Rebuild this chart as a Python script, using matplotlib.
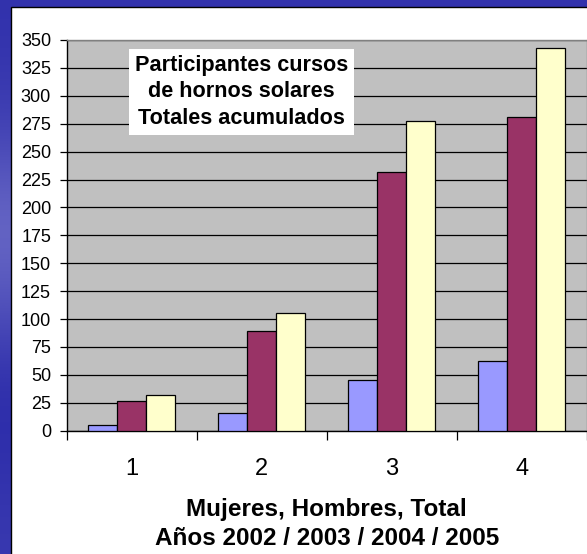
import numpy as np
import matplotlib
matplotlib.use("Agg")
import matplotlib.pyplot as plt
import matplotlib.transforms as mtransforms
from matplotlib.patches import Rectangle

plt.rcParams["font.family"] = ["Liberation Sans", "DejaVu Sans"]

# datos
cursos = [1, 2, 3, 4]
mujeres = [5, 16, 45, 62]
hombres = [27, 89, 232, 281]
total = [32, 105, 277, 343]
yticks = list(range(0, 351, 25))

fig = plt.figure(figsize=(5.87, 5.54), dpi=100)

# fondo azul degradado de la diapositiva
bg = fig.add_axes([0, 0, 1, 1], zorder=-10)
prof = np.array([0.10, 0.15, 0.25, 0.45, 0.60, 0.50, 0.30, 0.10, 0.05, 0.10, 0.15])
img = np.zeros((len(prof), 2, 3))
base = np.array([0x28, 0x28, 0xA8]) / 255
light = np.array([0x90, 0x90, 0xD8]) / 255
for i, p in enumerate(prof):
    img[i, :] = base * (1 - p) + light * p
bg.imshow(img, aspect="auto", extent=[0, 1, 0, 1], interpolation="bicubic")
bg.set_axis_off()

# panel blanco
fig.add_artist(Rectangle((10.7 / 587, -0.01), 1.0, 1 - 7.3 / 554 + 0.01,
                         transform=fig.transFigure, facecolor="white",
                         edgecolor="black", linewidth=1.0, zorder=-5))

ax = fig.add_axes([66.7 / 587, (554 - 430.7) / 554, 520 / 587, 390.7 / 554])
ax.set_facecolor("#C0C0C0")

x = np.arange(len(cursos))
w = 2 / 9
ax.bar(x - w, mujeres, w, color="#9999FF", edgecolor="black", linewidth=0.9, zorder=3)
ax.bar(x, hombres, w, color="#993366", edgecolor="black", linewidth=0.9, zorder=3)
ax.bar(x + w, total, w, color="#FFFFCC", edgecolor="black", linewidth=0.9, zorder=3)

ax.set_xlim(-0.5, len(cursos) - 0.5)
ax.set_ylim(0, 350)
ax.set_yticks(yticks)
ax.tick_params(axis="y", direction="out", length=4.8, width=0.9, labelsize=13, pad=6.5)
ax.yaxis.grid(True, color="black", linewidth=0.9)
ax.set_axisbelow(True)

# marcas entre categorias, etiquetas en el centro
ax.set_xticks(np.arange(len(cursos) + 1) - 0.5)
ax.set_xticklabels([])
ax.tick_params(axis="x", which="major", direction="out", length=6.2, width=0.9)
trans = mtransforms.blended_transform_factory(ax.transData, ax.transAxes)
for xi, c in zip(x, cursos):
    ax.text(xi, -0.097, str(c), transform=trans, ha="center", va="center", fontsize=17)

for s in ["left", "bottom"]:
    ax.spines[s].set_color("black")
    ax.spines[s].set_linewidth(1.0)
for s in ["top", "right"]:
    ax.spines[s].set_color("#808080")
    ax.spines[s].set_linewidth(1.0)

ax.text(0.336, 0.867, "Participantes cursos\nde hornos solares\nTotales acumulados",
        transform=ax.transAxes, ha="center", va="center", fontsize=15.6,
        fontweight="bold", linespacing=1.36, zorder=5,
        bbox=dict(boxstyle="square,pad=0.28", facecolor="white", edgecolor="none"))

ax.set_xlabel("Mujeres, Hombres, Total\nAños 2002 / 2003 / 2004 / 2005",
              fontsize=17.5, fontweight="bold", linespacing=1.3, labelpad=39)

fig.savefig("out.png", dpi=100)
